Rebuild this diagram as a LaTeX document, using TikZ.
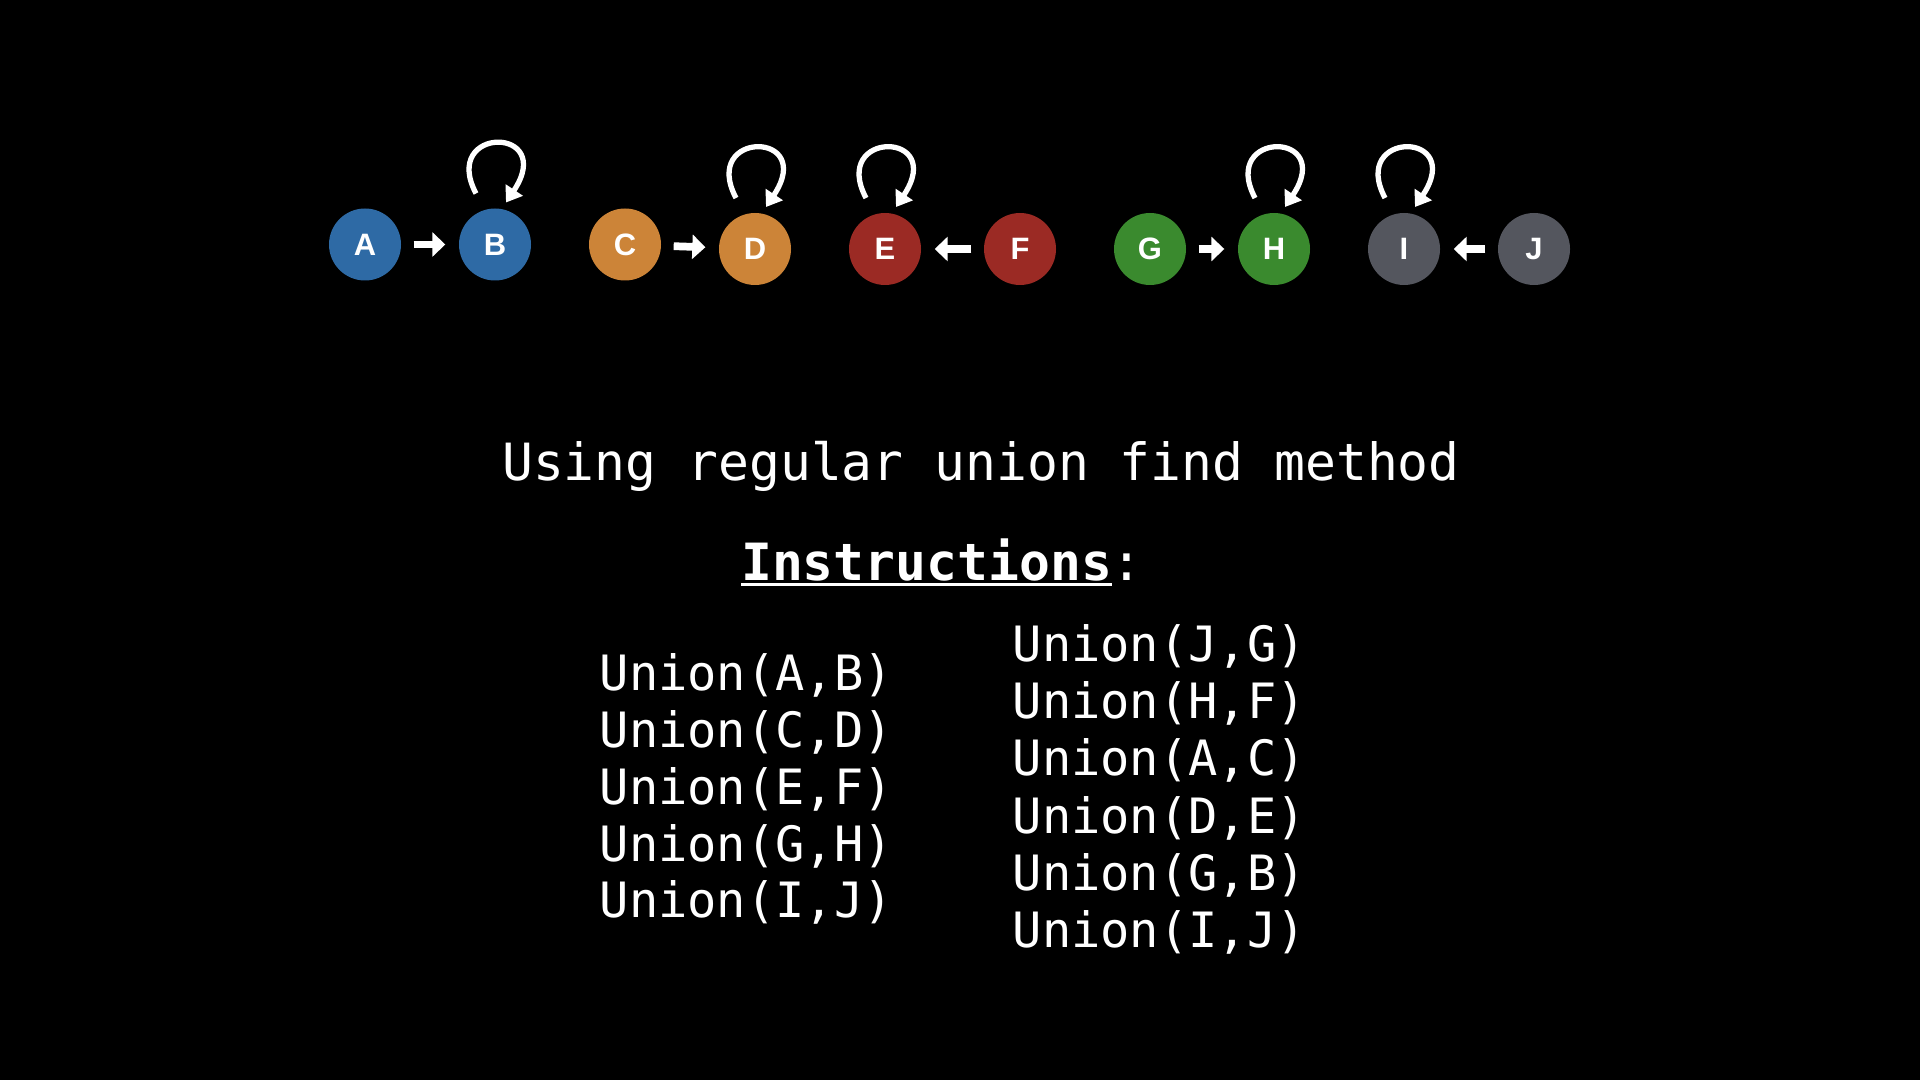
\documentclass[tikz,border=0pt]{standalone}
\usepackage{fontspec}
\setmainfont{DejaVu Sans Mono}
\newfontfamily\labelfont{Liberation Sans}
\newcommand\thickuline[1]{\setbox0\hbox{#1}\rlap{\rule[-0.05cm]{\wd0}{0.032cm}}\box0}
\usetikzlibrary{arrows.meta, positioning}

\definecolor{setblue}{HTML}{2E6AA5}
\definecolor{setorange}{HTML}{CC8438}
\definecolor{setred}{HTML}{9B2A24}
\definecolor{setgreen}{HTML}{3A8A2E}
\definecolor{setgray}{HTML}{54565E}

\begin{document}
\begin{tikzpicture}[on grid, node distance=1.3cm,
    vertex/.style={circle, minimum size=0.72cm, inner sep=0pt, text=white,
      font=\labelfont\bfseries\fontsize{8.8}{10}\selectfont},
    link/.style={-{Triangle[length=1.3mm,width=2.4mm]}, line width=2.2pt, white,
      shorten <=0.12cm, shorten >=0.13cm},
    selfloop/.style={-{Triangle[length=1.5mm,width=2mm]}, line width=1.5pt, white},
    slide/.style={text=white, inner sep=0pt}]
  \fill[black] (0,0) rectangle (19.2,-10.8);

  \node[vertex, fill=setblue]   (A)                          at (3.65,-2.445) {A};
  \node[vertex, fill=setblue]   (B) [right=of A]             {B};
  \node[vertex, fill=setorange] (C) [right=of B]             {C};
  \node[vertex, fill=setorange] (D) [right=of C, yshift=-0.045cm] {D};
  \node[vertex, fill=setred]    (E) [right=of D]             {E};
  \node[vertex, fill=setred]    (F) [right=1.35cm of E]      {F};
  \node[vertex, fill=setgreen]  (G) [right=of F]             {G};
  \node[vertex, fill=setgreen]  (H) [right=1.24cm of G]      {H};
  \node[vertex, fill=setgray]   (I) [right=of H]             {I};
  \node[vertex, fill=setgray]   (J) [right=of I]             {J};

  \path[link]
    (A) edge (B)
    (C) edge (D)
    (F) edge (E)
    (G) edge (H)
    (J) edge (I);

  % roots point to themselves
  \draw[selfloop] ([shift={(-0.19,0.51)}]B.center) .. controls +(-0.36,0.68) and +(0.51,0.77) .. ([shift={(0.11,0.42)}]B.center);
  \draw[selfloop] ([shift={(-0.19,0.51)}]D.center) .. controls +(-0.36,0.68) and +(0.51,0.77) .. ([shift={(0.11,0.42)}]D.center);
  \draw[selfloop] ([shift={(-0.19,0.51)}]E.center) .. controls +(-0.36,0.68) and +(0.51,0.77) .. ([shift={(0.11,0.42)}]E.center);
  \draw[selfloop] ([shift={(-0.19,0.51)}]H.center) .. controls +(-0.36,0.68) and +(0.51,0.77) .. ([shift={(0.11,0.42)}]H.center);
  \draw[selfloop] ([shift={(-0.19,0.51)}]I.center) .. controls +(-0.36,0.68) and +(0.51,0.77) .. ([shift={(0.11,0.42)}]I.center);

  \node[slide, font=\fontsize{14.6}{18}\selectfont] (title) at (9.81,-4.665) {Using regular union find method};
  \node[slide, font=\fontsize{14.6}{18}\selectfont] (instr) at (9.42,-5.625) {\thickuline{\textbf{Instructions}}:};

  \node[slide, anchor=west, align=left, font=\fontsize{13.85}{16.2}\selectfont] (first) at (5.99,-7.89)
    {Union(A,B)\\Union(C,D)\\Union(E,F)\\Union(G,H)\\Union(I,J)};
  \node[slide, anchor=west, align=left, font=\fontsize{13.85}{16.3}\selectfont] (second) at (10.12,-7.895)
    {Union(J,G)\\Union(H,F)\\Union(A,C)\\Union(D,E)\\Union(G,B)\\Union(I,J)};
\end{tikzpicture}
\end{document}
